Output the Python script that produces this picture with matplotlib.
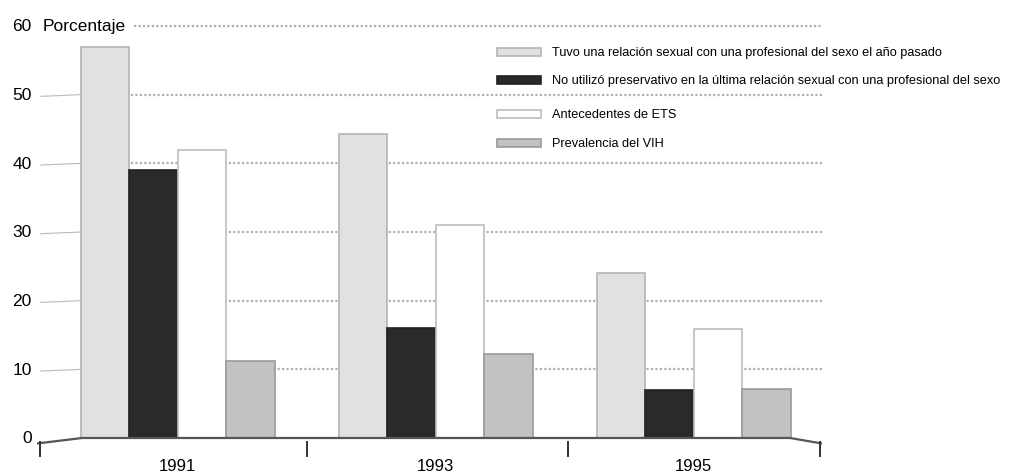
import numpy as np
import matplotlib.pyplot as plt
from matplotlib.patches import Rectangle

plt.rcParams['font.family'] = ['Liberation Sans', 'DejaVu Sans']

years = ['1991', '1993', '1995']
series = ['Tuvo una relación sexual con una profesional del sexo el año pasado',
          'No utilizó preservativo en la última relación sexual con una profesional del sexo',
          'Antecedentes de ETS',
          'Prevalencia del VIH']
relacion = [57, 44.2, 24]
sin_preservativo = [39, 16, 7]
ets = [42, 31, 15.8]
vih = [11.2, 12.3, 7.1]
values = [relacion, sin_preservativo, ets, vih]
yticks = [0, 10, 20, 30, 40, 50, 60]

colors = ['#e1e1e1', '#2a2a2a', '#ffffff', '#c2c2c2']
edges = ['#b4b4b4', '#222222', '#bdbdbd', '#9a9a9a']

fig = plt.figure(figsize=(10.09, 4.77), dpi=100)
ax = fig.add_axes([37 / 1009, 0.0365, 785 / 1009, 0.9214])
ax.set_xlim(-0.545, 2.498)
ax.set_ylim(-3, 61)
ax.axis('off')

x = np.arange(len(years))
w = 0.188
wall = -0.37
right_wall = 2.374

# pared del fondo y lateral
for t in yticks:
    if t > 0:
        start = -0.17 if t == 60 else wall
        ax.plot([start, 2.498], [t, t], color='#b0b0b0', lw=1.6, ls=(0, (1, 1)), zorder=1)
    if 0 < t < 60:
        ax.plot([-0.53, wall], [t - 0.25, t], color='#bbbbbb', lw=0.8, zorder=1)
    ax.text(-0.565, t, str(t), ha='right', va='center', fontsize=12.5)
ax.text(-0.525, 60, 'Porcentaje', ha='left', va='center', fontsize=12.5)

for i, (vals, c, e) in enumerate(zip(values, colors, edges)):
    ax.bar(x - 1.5 * w + i * w, vals, width=w, color=c, edgecolor=e, lw=1.2, zorder=3)

# piso
ax.plot([-0.545, wall, right_wall, 2.498], [-0.8, 0, 0, -0.8], color='#555555', lw=1.6, zorder=4)
for tx in [-0.535, 0.503, 1.513, 2.49]:
    ax.plot([tx, tx], [-0.6, -2.6], color='#333333', lw=1.4, zorder=4)
for xi, yr in zip(x, years):
    ax.text(xi, -4.0, yr, ha='center', va='center', fontsize=12)

# leyenda
ly = [56.2, 52.1, 47.2, 43.0]
for lab, c, e, yy in zip(series, colors, edges, ly):
    ax.add_patch(Rectangle((1.238, yy - 0.6), 0.17, 1.2, facecolor=c, edgecolor=e, lw=1.2, zorder=5))
    ax.text(1.451, yy, lab, ha='left', va='center', fontsize=9.2, zorder=5)

fig.savefig('out.png', dpi=100)
